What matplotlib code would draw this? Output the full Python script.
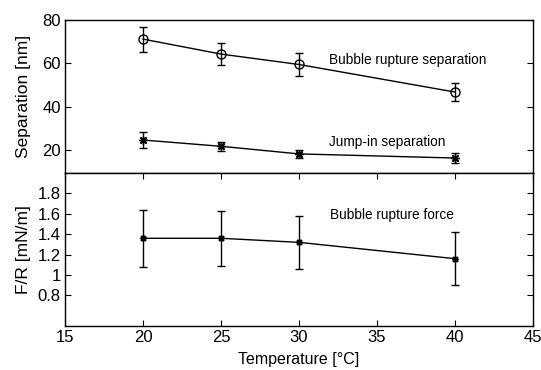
import numpy as np
import matplotlib
matplotlib.use("Agg")
import matplotlib.pyplot as plt

plt.rcParams['font.family'] = ['Liberation Sans', 'DejaVu Sans']

# temperatures (deg C)
temp = [20, 25, 30, 40]

# bubble rupture separation (nm) and error
rupture_sep = [71.2, 64.3, 59.5, 46.8]
rupture_sep_err = [5.8, 5.2, 5.3, 4.2]

# jump-in separation (nm) and error
jump_sep = [24.7, 21.8, 18.3, 16.4]
jump_sep_err = [3.8, 2.0, 1.9, 2.3]

# bubble rupture force F/R (mN/m) and error
force = [1.36, 1.36, 1.32, 1.16]
force_err = [0.28, 0.27, 0.26, 0.26]

W, H = 541, 370
fig = plt.figure(figsize=(W / 100, H / 100), dpi=100)

L, R = 65 / W, 533 / W
ax1 = fig.add_axes([L, 1 - 173 / H, R - L, (173 - 20) / H])
ax2 = fig.add_axes([L, 1 - 326 / H, R - L, (326 - 173) / H])

asterisk = (8, 2, 0)

ax1.errorbar(temp, rupture_sep, yerr=rupture_sep_err, color='black', lw=1,
             marker='o', mfc='none', mec='black', ms=6.5, capsize=3, elinewidth=1)
ax1.errorbar(temp, jump_sep, yerr=jump_sep_err, color='black', lw=1,
             marker=asterisk, ms=6, capsize=3, elinewidth=1)
ax1.text(31.9, 61.6, 'Bubble rupture separation', fontsize=9.8, va='center')
ax1.text(31.9, 23.6, 'Jump-in separation', fontsize=9.8, va='center')

ax1.set_xlim(15, 45)
ax1.set_ylim(9.5, 80)
ax1.set_yticks([20, 40, 60, 80])
ax1.set_xticks([])
ax1.set_ylabel('Separation [nm]', fontsize=12.5)

ax2.errorbar(temp, force, yerr=force_err, color='black', lw=1,
             marker=asterisk, ms=5, capsize=3, elinewidth=1)
ax2.text(32.0, 1.59, 'Bubble rupture force', fontsize=9.8, va='center')

ax2.set_xlim(15, 45)
ax2.set_ylim(0.5, 2.0)
ax2.set_yticks([0.8, 1, 1.2, 1.4, 1.6, 1.8])
ax2.set_yticklabels(['0.8', '1', '1.2', '1.4', '1.6', '1.8'])
ax2.set_xticks([15, 20, 25, 30, 35, 40, 45])
ax2.set_ylabel('F/R [mN/m]', fontsize=12.5)
ax2.set_xlabel('Temperature [°C]', fontsize=11.5, labelpad=5)

for ax in (ax1, ax2):
    ax.tick_params(direction='in', right=True, labelsize=12, length=4, width=0.8, pad=3)
    for s in ax.spines.values():
        s.set_linewidth(1)
ax2.tick_params(axis='x', top=True)
ax1.yaxis.set_label_coords(-0.073, 0.5)
ax2.yaxis.set_label_coords(-0.073, 0.5)

fig.savefig('out.png', dpi=100)
